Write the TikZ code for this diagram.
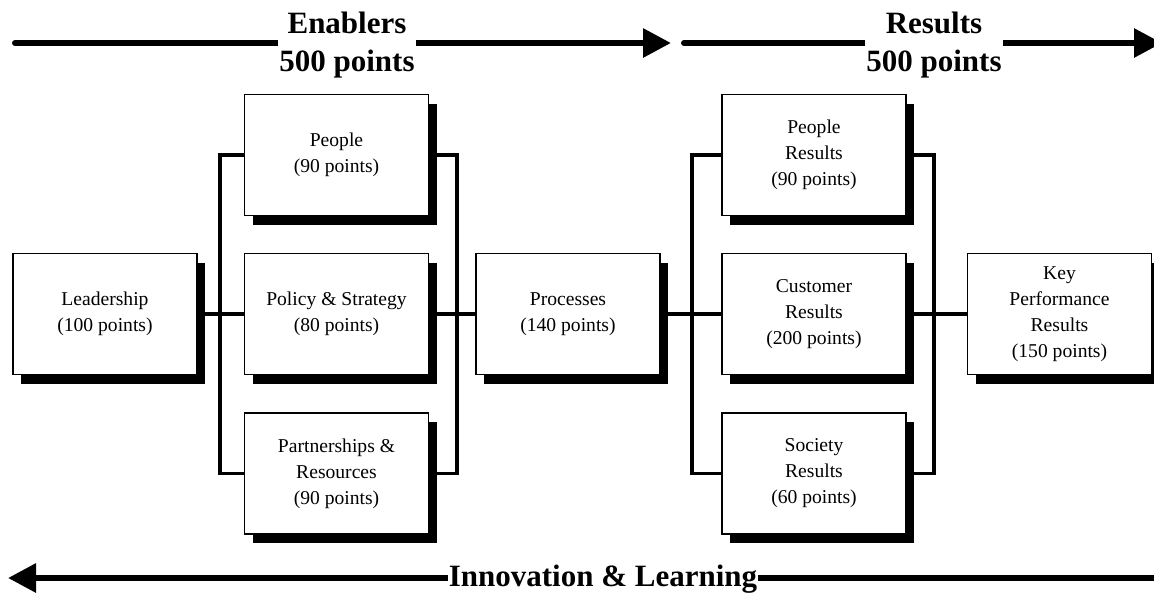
\documentclass[tikz,border=0pt]{standalone}
\usepackage{fontspec}
\setmainfont{Liberation Serif}
\usetikzlibrary{arrows.meta,shadows,backgrounds}

\begin{document}
\begin{tikzpicture}[x=1pt,y=-1pt,
  box/.style={draw=black, line width=1.2pt, fill=white,
    minimum width=184pt, minimum height=121pt, inner sep=0pt,
    align=center, font=\fontsize{19.6}{26}\selectfont,
    general shadow={fill=black, shadow xshift=8pt, shadow yshift=-9pt}},
  link/.style={line width=3.6pt},
  band/.style={line width=6pt, line cap=round,
    -{Triangle[length=28pt,width=28pt]}},
  bandlabel/.style={fill=white, inner sep=1pt, align=center,
    font=\fontsize{31}{38}\selectfont\bfseries}]

\useasboundingbox (0,0) rectangle (1154,592);
\clip (0,0) rectangle (1154,592);

% criteria boxes
\node[box] (lead)     at (105,314)    {Leadership\\(100 points)};
\node[box] (people)   at (336.5,155)  {People\\(90 points)};
\node[box] (policy)   at (336.5,314)  {Policy \& Strategy\\(80 points)};
\node[box] (partner)  at (336.5,473.5){Partnerships \&\\Resources\\(90 points)};
\node[box] (proc)     at (568,314)    {Processes\\(140 points)};
\node[box] (presults) at (814,155)    {People\\Results\\(90 points)};
\node[box] (cresults) at (814,314)    {Customer\\Results\\(200 points)};
\node[box] (sresults) at (814,473.5)  {Society\\Results\\(60 points)};
\node[box] (kpr)      at (1059.5,314) {Key\\Performance\\Results\\(150 points)};

% x positions of the bracket uprights
\coordinate (ebl) at (220,0);
\coordinate (ebr) at (457,0);
\coordinate (rbl) at (692,0);
\coordinate (rbr) at (934,0);

\begin{scope}[on background layer]
  \draw[link] (lead.east) -- (policy.west);
  \draw[link] (people.west) -- (people.west -| ebl) -- (partner.west -| ebl) -- (partner.west);
  \draw[link] (people.east) -- (people.east -| ebr) -- (partner.east -| ebr) -- (partner.east);
  \draw[link] (policy.east) -- (proc.west);
  \draw[link] (proc.east) -- (cresults.west);
  \draw[link] (presults.west) -- (presults.west -| rbl) -- (sresults.west -| rbl) -- (sresults.west);
  \draw[link] (presults.east) -- (presults.east -| rbr) -- (sresults.east -| rbr) -- (sresults.east);
  \draw[link] (cresults.east) -- (kpr.west);
\end{scope}

% banner arrows
\coordinate (ens) at (15,43);
\coordinate (ene) at (671,43);
\coordinate (res) at (684,43);
\coordinate (ree) at (1162,43);
\coordinate (ils) at (1170,578);
\coordinate (ile) at (8,578);

\draw[band] (ens) -- (ene);
\draw[band] (res) -- (ree);
\draw[band] (ils) -- (ile);

\node[bandlabel] (enl) at (347,45) {Enablers\\500 points};
\node[bandlabel] (rel) at (934,45) {Results\\500 points};
\node[bandlabel] (ill) at (603,579) {Innovation \& Learning};

\end{tikzpicture}
\end{document}
